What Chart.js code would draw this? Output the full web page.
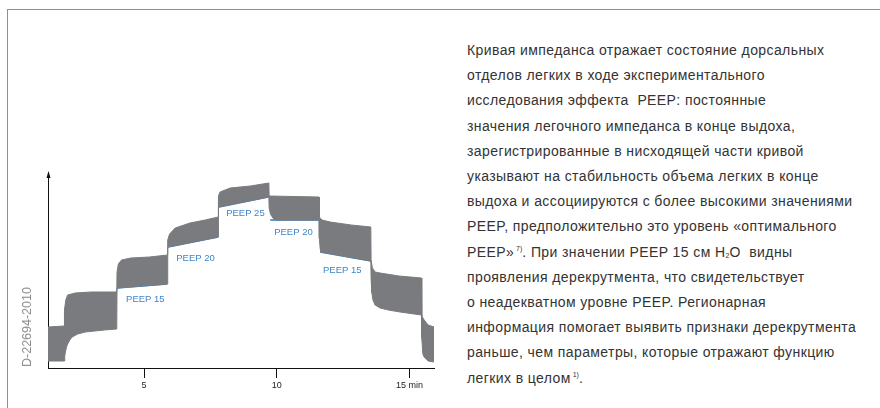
<!DOCTYPE html>
<html>
<head>
<meta charset="utf-8">
<script src="https://cdn.jsdelivr.net/npm/chart.js"></script>
<style>
    html, body { margin: 0; padding: 0; background: #fff; }
    body { width: 880px; height: 408px; position: relative; overflow: hidden; font-family: 'Liberation Sans', Arial, sans-serif; }
    .frame { position: absolute; left: 7px; top: 9px; width: 900px; height: 420px; border-top: 1px solid #8f8f8f; border-left: 1px solid #8f8f8f; }
    #chartWrap { position: absolute; left: 0; top: 0; width: 450px; height: 408px; }
    .docid { position: absolute; left: 27px; top: 327px; transform: translate(-50%, -50%) rotate(-90deg); font-size: 12.5px; color: #8c8c8c; white-space: nowrap; }
    .text { position: absolute; left: 467px; top: 38px; font-size: 14px; letter-spacing: 0.4px; line-height: 25.2px; color: #333; white-space: nowrap; }
    .text sup { font-size: 7px; vertical-align: 6px; line-height: 0; letter-spacing: 0; }
    .text sub { font-size: 7px; vertical-align: -1px; line-height: 0; letter-spacing: 0; }
</style>
</head>
<body>
<div class="frame"></div>
<div id="chartWrap"><canvas id="impedanceChart" width="450" height="408"></canvas></div>
<div class="docid">D-22694-2010</div>
<div class="text">
    Кривая импеданса отражает состояние дорсальных<br>
    отделов легких в ходе экспериментального<br>
    исследования эффекта &nbsp;PEEP: постоянные<br>
    значения легочного импеданса в конце выдоха,<br>
    зарегистрированные в нисходящей части кривой<br>
    указывают на стабильность объема легких в конце<br>
    выдоха и ассоциируются с более высокими значениями<br>
    PEEP, предположительно это уровень «оптимального<br>
    PEEP»<sup>&nbsp;7)</sup>. При значении PEEP 15 см H<sub>2</sub>O &nbsp;видны<br>
    проявления дерекрутмента, что свидетельствует<br>
    о неадекватном уровне PEEP. Регионарная<br>
    информация помогает выявить признаки дерекрутмента<br>
    раньше, чем параметры, которые отражают функцию<br>
    легких в целом<sup>&nbsp;1)</sup>.
</div>

<script>
// Верхняя огибающая кривой импеданса (время, мин / усл. ед.)
var upperTime = [1.38, 1.99, 2.00, 2.05, 2.12, 2.40, 3.00, 3.97,
    3.98, 4.03, 4.15, 4.50, 5.20, 5.88,
    5.89, 5.96, 6.17, 6.73, 7.30, 7.79,
    7.80, 7.86, 8.24, 9.00, 9.70,
    9.71, 11.59,
    11.60, 11.70, 12.01, 12.80, 13.54,
    13.55, 13.60, 13.70, 13.89, 14.60, 15.45,
    15.46, 15.55, 15.70, 15.92];
var upperValue = [41, 42, 58, 68, 73, 75, 76, 76,
    96, 104, 108, 110, 111, 113,
    128, 134, 140, 145, 148, 151,
    172, 176, 180, 182, 185,
    172, 171,
    151, 148, 146, 143, 141,
    108, 100, 96, 95, 92, 90,
    52, 48, 43, 41];

// Нижняя огибающая (конец выдоха)
var lowerTime = [1.38, 1.99, 2.01, 2.05, 2.10, 2.20, 2.29, 2.50, 2.78, 3.50, 3.97,
    3.98, 5.88,
    5.89, 7.79,
    7.80, 9.70,
    9.71, 9.76, 9.85, 9.93, 11.59,
    11.60, 11.63, 11.66, 13.54,
    13.55, 13.58, 13.62, 13.70, 13.89, 14.20, 14.64, 15.45,
    15.46, 15.50, 15.55, 15.70, 15.92];
var lowerValue = [7, 7, 12, 18, 23, 28, 31, 34, 36, 38, 39,
    80, 84,
    121, 131,
    161, 171,
    160, 154, 150, 148, 148,
    130, 120, 116, 107,
    90, 75, 68, 63, 60, 58, 56, 53,
    30, 14, 11, 7, 6];

// Линии конца выдоха для ступеней PEEP
var peepNames = ['PEEP 15', 'PEEP 20', 'PEEP 25', 'PEEP 20', 'PEEP 15'];
var peepStart = [3.98, 5.90, 7.82, 9.75, 11.63];
var peepEnd = [5.87, 7.79, 9.67, 11.59, 13.55];
var peepStartValue = [80, 121, 161, 148, 116];
var peepEndValue = [84, 131, 171, 148, 107];
var peepLabelTime = [4.32, 6.21, 8.09, 9.90, 11.74];
var peepLabelValue = [69, 110, 155, 136, 98];

// Разрыв в записи около 10.8 мин
var gapTime = [10.80, 10.80];
var gapValue = [149, 171];

var xTicks = [5, 10, 15];
var xTickLabels = ['5', '10', '15 min'];

var GRAY = '#7a7b7e';
var BLUE = '#2f78c2';

function toPoints(xs, ys) {
    var pts = [];
    for (var i = 0; i < xs.length; i++) {
        pts.push({ x: xs[i], y: ys[i] });
    }
    return pts;
}

var datasets = [{
    data: toPoints(upperTime, upperValue),
    borderColor: GRAY,
    borderWidth: 1,
    pointRadius: 0,
    fill: false,
    tension: 0
}, {
    data: toPoints(lowerTime, lowerValue),
    borderColor: GRAY,
    backgroundColor: GRAY,
    borderWidth: 1,
    pointRadius: 0,
    fill: '-1',
    tension: 0
}, {
    data: toPoints(gapTime, gapValue),
    borderColor: 'rgba(255,255,255,0.75)',
    borderWidth: 1,
    pointRadius: 0,
    fill: false
}];

for (var i = 0; i < peepNames.length; i++) {
    datasets.push({
        data: [{ x: peepStart[i], y: peepStartValue[i] }, { x: peepEnd[i], y: peepEndValue[i] }],
        borderColor: BLUE,
        borderWidth: 1.5,
        pointRadius: 0,
        fill: false
    });
}

// Подписи PEEP и стрелка оси Y
var decorPlugin = {
    id: 'decor',
    afterDatasetsDraw: function(chart) {
        var ctx = chart.ctx;
        var xs = chart.scales.x;
        var ys = chart.scales.y;
        ctx.save();
        ctx.font = '9.5px "Liberation Sans", Arial, sans-serif';
        ctx.fillStyle = '#3f86c8';
        ctx.textAlign = 'left';
        ctx.textBaseline = 'middle';
        for (var i = 0; i < peepNames.length; i++) {
            ctx.fillText(peepNames[i], xs.getPixelForValue(peepLabelTime[i]), ys.getPixelForValue(peepLabelValue[i]));
        }
        ctx.restore();
    },
    afterDraw: function(chart) {
        var ctx = chart.ctx;
        var area = chart.chartArea;
        var x = Math.round(area.left) + 0.5;
        ctx.save();
        ctx.fillStyle = '#111';
        ctx.beginPath();
        ctx.moveTo(x, area.top - 4);
        ctx.lineTo(x + 2, area.top + 3);
        ctx.lineTo(x - 2, area.top + 3);
        ctx.closePath();
        ctx.fill();
        ctx.restore();
    }
};

new Chart(document.getElementById('impedanceChart'), {
    type: 'line',
    data: { datasets: datasets },
    options: {
        responsive: false,
        animation: false,
        events: [],
        layout: { padding: { left: 48, top: 175, right: 16, bottom: 0 } },
        plugins: {
            legend: { display: false },
            tooltip: { enabled: false }
        },
        scales: {
            x: {
                type: 'linear',
                min: 1.38,
                max: 15.92,
                afterBuildTicks: function(scale) {
                    scale.ticks = xTicks.map(function(v) { return { value: v }; });
                },
                afterFit: function(scale) { scale.height = 40; },
                grid: { display: true, drawOnChartArea: false, drawTicks: true, tickLength: 10, color: '#111' },
                border: { display: true, color: '#111', width: 1 },
                ticks: {
                    padding: 2,
                    color: '#222',
                    font: { family: '"Liberation Sans", Arial, sans-serif', size: 9 },
                    maxRotation: 0,
                    callback: function(value) {
                        var idx = xTicks.indexOf(value);
                        return idx >= 0 ? xTickLabels[idx] : '';
                    }
                }
            },
            y: {
                type: 'linear',
                min: 0,
                max: 193,
                afterFit: function(scale) { scale.width = 0; },
                grid: { display: false, drawTicks: false },
                border: { display: true, color: '#111', width: 1 },
                ticks: { display: false }
            }
        }
    },
    plugins: [decorPlugin]
});
</script>
</body>
</html>
